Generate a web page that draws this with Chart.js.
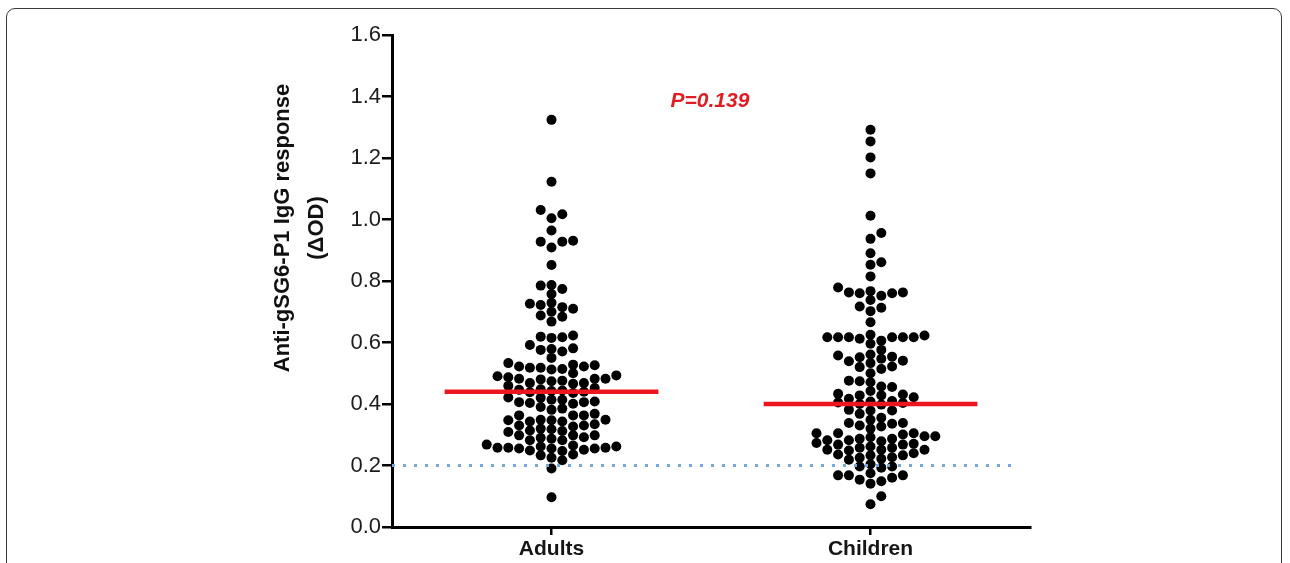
<!DOCTYPE html>
<html>
<head>
<meta charset="utf-8">
<script src="https://cdn.jsdelivr.net/npm/chart.js@4/dist/chart.umd.min.js"></script>
<style>
  html, body { margin: 0; padding: 0; background: #fff; overflow: hidden; }
  #wrap { position: relative; width: 1290px; height: 563px; }
  #frame { position: absolute; left: 6px; top: 8px; width: 1276px; height: 640px;
           border: 1.5px solid #3a3a3a; border-radius: 9px; box-sizing: border-box; pointer-events: none; }
  canvas { position: absolute; left: 0; top: 0; }
</style>
</head>
<body>
<div id="wrap">
  <canvas id="c" width="1290" height="563"></canvas>
  <div id="frame"></div>
</div>
<script>
// ---------- data ----------
const categories = ['Adults', 'Children'];
const categoryPositions = [0.5, 1.5];
const adults = [1.324, 1.123, 1.031, 1.017, 1.004, 0.964, 0.931, 0.928, 0.928, 0.909, 0.852, 0.787, 0.785, 0.774, 0.758,
  0.729, 0.726, 0.722, 0.715, 0.710, 0.700, 0.688, 0.684, 0.668, 0.623, 0.619, 0.617, 0.615, 0.592, 0.581, 0.579, 0.576, 0.571, 0.550,
  0.533, 0.528, 0.526, 0.522, 0.522, 0.518, 0.518, 0.514, 0.512,
  0.500, 0.493, 0.490, 0.487, 0.482, 0.482, 0.482, 0.480, 0.476, 0.474, 0.468, 0.468, 0.466, 0.459,
  0.452, 0.448, 0.446, 0.444, 0.442, 0.440, 0.438, 0.436,
  0.421, 0.420, 0.414, 0.414, 0.408, 0.406, 0.406, 0.403, 0.401,
  0.390, 0.385, 0.381,
  0.368, 0.363, 0.363, 0.363, 0.349, 0.349, 0.347, 0.343,
  0.347, 0.343, 0.334, 0.330, 0.330, 0.327,
  0.320, 0.318, 0.314, 0.312, 0.309,
  0.298, 0.298, 0.298, 0.292, 0.290, 0.287, 0.282, 0.282,
  0.268, 0.265, 0.262, 0.262, 0.258, 0.258, 0.258, 0.255, 0.255, 0.255, 0.251, 0.249, 0.247,
  0.236, 0.233, 0.225, 0.217,
  0.190, 0.097];
const children = [1.292, 1.254, 1.202, 1.150, 1.012, 0.956, 0.937, 0.890, 0.861, 0.853, 0.815, 0.779, 0.767, 0.763, 0.763,
  0.760, 0.760, 0.752, 0.738, 0.717, 0.713, 0.702, 0.666,
  0.625, 0.623, 0.617, 0.617, 0.617, 0.617, 0.617, 0.617, 0.612, 0.606, 0.596,
  0.576, 0.561, 0.558, 0.554, 0.552, 0.547, 0.541, 0.539, 0.533, 0.522, 0.520, 0.514, 0.500,
  0.476, 0.474, 0.471, 0.457, 0.455, 0.442,
  0.433, 0.431, 0.428, 0.428, 0.422, 0.417,
  0.410, 0.408, 0.405, 0.403, 0.400, 0.398,
  0.381, 0.379, 0.379, 0.368, 0.355, 0.349,
  0.338, 0.338, 0.336, 0.330, 0.327, 0.320,
  0.305, 0.305, 0.305, 0.301, 0.295, 0.295, 0.292, 0.287, 0.287, 0.282, 0.282, 0.279, 0.273,
  0.271, 0.268, 0.268, 0.262, 0.258, 0.258, 0.251, 0.251, 0.251, 0.249, 0.240,
  0.236, 0.233, 0.233, 0.227, 0.225, 0.222, 0.219,
  0.204, 0.197, 0.197, 0.193,
  0.175, 0.168, 0.168, 0.168, 0.160, 0.154, 0.149, 0.141,
  0.100, 0.074];
const means = [0.44, 0.40];
const yTicks = [0, 0.2, 0.4, 0.6, 0.8, 1.0, 1.2, 1.4, 1.6];
const threshold = 0.2;
const pLabel = 'P=0.139';
const yTitle = ['Anti-gSG6-P1 IgG response', '(\u0394OD)'];

// ---------- style ----------
const FONT = "'Liberation Sans', Arial, Helvetica, sans-serif";
const DOT_R = 5;
const SLOT_PX = 10.8;
const MIN_SEP = 8.5;
const MEAN_HALF = 0.335;

const groups = [adults, children];
const dotSets = groups.map((vals, g) => ({
  type: 'scatter',
  data: vals.map(v => ({ x: categoryPositions[g], y: v })),
  backgroundColor: '#000', borderWidth: 0,
  pointRadius: DOT_R, pointHoverRadius: DOT_R, order: 2
}));
const meanSets = means.map((m, g) => ({
  type: 'line',
  data: [{ x: categoryPositions[g] - MEAN_HALF, y: m }, { x: categoryPositions[g] + MEAN_HALF, y: m }],
  borderColor: 'rgb(236,22,28)', borderWidth: 4.5, pointRadius: 0, borderCapStyle: 'butt', order: 1
}));
const thresholdSet = {
  type: 'line',
  data: [{ x: 0, y: threshold }, { x: 1.95, y: threshold }],
  borderColor: '#78a6df', borderWidth: 3, borderDash: [3, 8], borderCapStyle: 'butt', pointRadius: 0, order: 0
};

const textPlugin = {
  id: 'texts',
  afterDraw(chart) {
    const ctx = chart.ctx;
    const xs = chart.scales.x, ys = chart.scales.y;
    ctx.save();
    // P value
    ctx.fillStyle = 'rgb(222,30,36)';
    ctx.font = 'italic bold 21px ' + FONT;
    ctx.textAlign = 'center'; ctx.textBaseline = 'middle';
    ctx.fillText(pLabel, xs.getPixelForValue(1.0) - 1, ys.getPixelForValue(1.386));
    // y title
    ctx.fillStyle = '#111';
    ctx.font = 'bold 22px ' + FONT;
    ctx.translate(0, 228);
    ctx.rotate(-Math.PI / 2);
    ctx.textAlign = 'center'; ctx.textBaseline = 'alphabetic';
    ctx.fillText(yTitle[0], 0, 288.5);
    ctx.fillText(yTitle[1], 0, 323);
    ctx.restore();
  }
};

const chart = new Chart(document.getElementById('c'), {
  data: { datasets: [...dotSets, ...meanSets, thresholdSet] },
  options: {
    responsive: false, animation: false,
    layout: { padding: { top: 35, right: 260, bottom: 0, left: 0 } },
    plugins: { legend: { display: false }, tooltip: { enabled: false } },
    scales: {
      x: {
        type: 'linear', min: 0, max: 2, position: 'bottom',
        afterBuildTicks: s => { s.ticks = categoryPositions.map(v => ({ value: v })); },
        afterFit: s => { s.height = 36; },
        ticks: {
          callback: v => categories[categoryPositions.indexOf(v)] || '',
          font: { family: FONT, size: 21, weight: 'bold' }, color: '#151515', padding: 2, maxRotation: 0
        },
        grid: { drawOnChartArea: false, drawTicks: true, tickLength: 8, color: '#000', lineWidth: 2.5 },
        border: { display: true, color: '#000', width: 3 }
      },
      y: {
        type: 'linear', min: 0, max: 1.6,
        afterBuildTicks: s => { s.ticks = yTicks.map(v => ({ value: v })); },
        afterFit: s => { s.width = 392; },
        ticks: {
          callback: v => v.toFixed(1),
          font: { family: FONT, size: 22 }, color: '#1c1c1c', padding: 1
        },
        grid: { drawOnChartArea: false, drawTicks: true, tickLength: 10, color: '#000', lineWidth: 2.5 },
        border: { display: true, color: '#000', width: 3 }
      }
    }
  },
  plugins: [textPlugin]
});

// beeswarm placement using the chart's own scales
function swarm(values, center) {
  const xs = chart.scales.x, ys = chart.scales.y;
  const cx = xs.getPixelForValue(center);
  const idx = values.map((v, i) => i).sort((a, b) => values[a] - values[b]);
  const placed = {};
  const out = new Array(values.length);
  idx.forEach(i => {
    const py = ys.getPixelForValue(values[i]);
    for (let n = 0; n < 60; n++) {
      const k = n === 0 ? 0 : (n % 2 ? (n + 1) / 2 : -n / 2);
      const list = placed[k] || (placed[k] = []);
      if (list.every(q => Math.abs(q - py) >= MIN_SEP)) {
        list.push(py);
        out[i] = { x: xs.getValueForPixel(cx + k * SLOT_PX), y: values[i] };
        break;
      }
    }
  });
  return out;
}
groups.forEach((vals, g) => { chart.data.datasets[g].data = swarm(vals, categoryPositions[g]); });
chart.update('none');
</script>
</body>
</html>
